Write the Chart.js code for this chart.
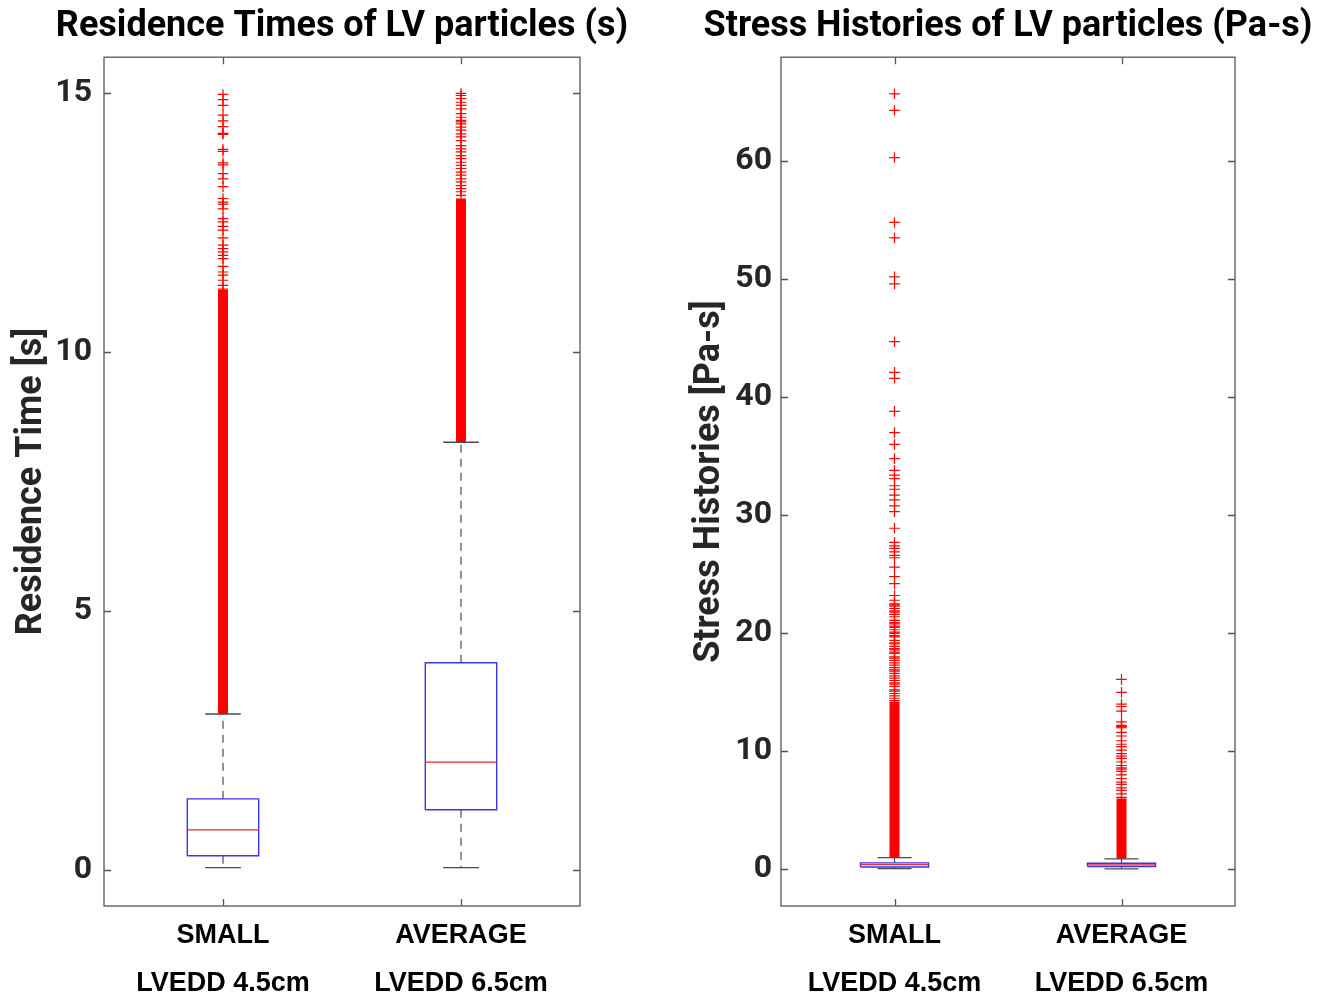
<!DOCTYPE html>
<html>
<head>
<meta charset="utf-8">
<title>LV particles – residence times and stress histories</title>
<script src="https://cdn.jsdelivr.net/npm/chart.js@4.4.0/dist/chart.umd.min.js"></script>
<style>
  html, body { margin: 0; padding: 0; background: #fff; overflow: hidden; }
  #wrap { position: relative; width: 1331px; height: 999px; overflow: hidden; }
  #rtChart { position: absolute; left: 0; top: 0; }
  #shChart { position: absolute; left: 660px; top: 0; }
</style>
</head>
<body>
<div id="wrap">
  <canvas id="rtChart" width="684" height="999"></canvas>
  <canvas id="shChart" width="696" height="999"></canvas>
</div>
<script>
// ---------- data ----------
const categories = ['SMALL', 'AVERAGE'];
const categorySubLabels = ['LVEDD 4.5cm', 'LVEDD 6.5cm'];
const categoryX = [1, 2];

// residence times (s)
const rtTicks = [0, 5, 10, 15];
const rtQ1 = [0.27, 1.16];
const rtMedian = [0.77, 2.08];
const rtQ3 = [1.37, 4.0];
const rtWhiskerLow = [0.04, 0.04];
const rtWhiskerHigh = [3.01, 8.26];
// ranges where outliers are packed so tightly that they form a solid column
const rtDenseOutliers = [[3.01, 11.2], [8.26, 12.97]];
const rtSmallOutliers = [14.98, 14.88, 14.77, 14.58, 14.47, 14.36, 14.23, 14.21, 13.92, 13.88,
  13.66, 13.62, 13.45, 13.35, 13.2, 12.97, 12.9, 12.86, 12.77, 12.58, 12.52, 12.43, 12.36,
  12.21, 12.07, 12.0, 11.94, 11.87, 11.81, 11.66, 11.55, 11.49, 11.39, 11.29, 11.22];
const rtAverageOutliers = [15.0, 14.96, 14.9, 14.83, 14.77, 14.7, 14.61, 14.54, 14.48, 14.45,
  14.41, 14.35, 14.29, 14.22, 14.16, 14.09, 13.99, 13.93, 13.87, 13.8, 13.74, 13.67, 13.61,
  13.55, 13.48, 13.42, 13.35, 13.29, 13.22, 13.16, 13.1, 13.03];

// stress histories (Pa-s)
const shTicks = [0, 10, 20, 30, 40, 50, 60];
const shQ1 = [0.2, 0.25];
const shMedian = [0.4, 0.38];
const shQ3 = [0.55, 0.52];
const shWhiskerLow = [0.06, 0.05];
const shWhiskerHigh = [0.99, 0.9];
const shDenseOutliers = [[0.99, 14.2], [0.9, 6.0]];
const shSmallOutliers = [65.7, 64.3, 60.3, 54.8, 53.5, 50.2, 49.6, 44.7, 42.1, 41.6, 38.8,
  37.0, 36.0, 34.8, 33.8, 33.4, 33.1, 32.5, 32.2, 31.7, 31.3, 30.8, 30.3, 28.9, 27.7, 27.4,
  27.2, 26.9, 26.6, 26.4, 25.6, 24.8, 24.2, 23.2, 22.8, 22.5, 22.4, 22.3, 22.1, 21.9, 21.8,
  21.6, 21.4, 21.1, 20.9, 20.8, 20.6, 20.5, 20.3, 20.1, 20.0, 19.8, 19.7, 19.4, 19.2, 19.1,
  18.9, 18.7, 18.6, 18.4, 18.3, 18.0, 17.9, 17.7, 17.5, 17.3, 17.1, 16.9, 16.8, 16.6, 16.4,
  16.2, 16.0, 15.8, 15.7, 15.5, 15.2, 15.1, 14.9, 14.7, 14.5, 14.3];
const shAverageOutliers = [16.1, 15.0, 14.0, 13.8, 13.4, 12.5, 12.2, 12.1, 12.0, 11.6, 11.3,
  10.9, 10.6, 10.4, 10.1, 9.8, 9.6, 9.4, 9.1, 8.8, 8.6, 8.5, 8.3, 8.0, 7.7, 7.4, 7.2, 6.9,
  6.7, 6.4, 6.1];

// ---------- styles ----------
const BOX_HALF = 0.15;
const CAP_HALF = 0.075;
const BOX_COLOR = '#3535f2';
const MEDIAN_COLOR = '#ee2a2a';
const OUTLIER_COLOR = '#ff0000';
const WHISKER_COLOR = '#4a4a4a';
const AXIS_COLOR = '#555555';
const TICK_LEN = 7;

// ---------- helpers ----------
function seg(x0, y0, x1, y1) {
  return [{ x: x0, y: y0 }, { x: x1, y: y1 }];
}

function lineSet(data, color, width, order, dash) {
  return {
    type: 'line',
    data,
    showLine: true,
    borderColor: color,
    borderWidth: width,
    borderDash: dash || [],
    pointRadius: 0,
    fill: false,
    tension: 0,
    order
  };
}

function buildBoxDatasets(q1, med, q3, lo, hi, dense, outliers) {
  const sets = [];
  categoryX.forEach((cx, i) => {
    sets.push(lineSet(seg(cx, dense[i][0], cx, dense[i][1]), OUTLIER_COLOR, 10, 6));
    sets.push({
      type: 'scatter',
      data: outliers[i].map(v => ({ x: cx, y: v })),
      pointStyle: 'cross',
      pointRadius: 5.3,
      borderColor: OUTLIER_COLOR,
      borderWidth: 1.2,
      order: 5
    });
    sets.push(lineSet(seg(cx, q3[i], cx, hi[i]), WHISKER_COLOR, 1.2, 4, [8, 6]));
    sets.push(lineSet(seg(cx, q1[i], cx, lo[i]), WHISKER_COLOR, 1.2, 4, [8, 6]));
    sets.push(lineSet(seg(cx - CAP_HALF, hi[i], cx + CAP_HALF, hi[i]), WHISKER_COLOR, 1.3, 3));
    sets.push(lineSet(seg(cx - CAP_HALF, lo[i], cx + CAP_HALF, lo[i]), WHISKER_COLOR, 1.3, 3));
    sets.push(lineSet([
      { x: cx - BOX_HALF, y: q1[i] }, { x: cx + BOX_HALF, y: q1[i] },
      { x: cx + BOX_HALF, y: q3[i] }, { x: cx - BOX_HALF, y: q3[i] },
      { x: cx - BOX_HALF, y: q1[i] }
    ], BOX_COLOR, 1.4, 2));
    sets.push(lineSet(seg(cx - BOX_HALF, med[i], cx + BOX_HALF, med[i]), MEDIAN_COLOR, 1.2, 1));
  });
  return sets;
}

// MATLAB-like frame with inward ticks on all four sides
const matlabAxes = {
  id: 'matlabAxes',
  afterDatasetsDraw(chart) {
    const { ctx, chartArea: a, scales: { x, y } } = chart;
    ctx.save();
    ctx.strokeStyle = AXIS_COLOR;
    ctx.lineWidth = 1.3;
    ctx.strokeRect(a.left, a.top, a.right - a.left, a.bottom - a.top);
    ctx.beginPath();
    y.ticks.forEach(t => {
      const py = Math.round(y.getPixelForValue(t.value)) + 0.5;
      ctx.moveTo(a.left, py); ctx.lineTo(a.left + TICK_LEN, py);
      ctx.moveTo(a.right, py); ctx.lineTo(a.right - TICK_LEN, py);
    });
    x.ticks.forEach(t => {
      const px = Math.round(x.getPixelForValue(t.value)) + 0.5;
      ctx.moveTo(px, a.bottom); ctx.lineTo(px, a.bottom - TICK_LEN);
      ctx.moveTo(px, a.top); ctx.lineTo(px, a.top + TICK_LEN);
    });
    ctx.stroke();
    ctx.restore();
  }
};

function makeChart(canvasId, cfg) {
  return new Chart(document.getElementById(canvasId), {
    type: 'scatter',
    data: { datasets: cfg.datasets },
    plugins: [matlabAxes],
    options: {
      responsive: false,
      animation: false,
      devicePixelRatio: 1,
      layout: { padding: 0 },
      plugins: {
        legend: { display: false },
        tooltip: { enabled: false },
        title: {
          display: true,
          text: cfg.title,
          color: '#000',
          font: { family: 'Roboto', weight: 'bold', size: 36, lineHeight: 1.2 },
          padding: { top: 5, bottom: 9 }
        }
      },
      scales: {
        x: {
          type: 'linear',
          min: 0.5,
          max: 2.5,
          grid: { display: false },
          border: { display: false },
          afterBuildTicks: s => { s.ticks = categoryX.map(v => ({ value: v })); },
          afterFit: s => { s.height = 93; },
          ticks: {
            autoSkip: false,
            maxRotation: 0,
            padding: -2,
            color: '#000',
            font: { family: 'Liberation Sans', weight: 'bold', size: 27, lineHeight: 1.76 },
            callback: v => {
              const i = categoryX.indexOf(v);
              return i < 0 ? '' : [categories[i], categorySubLabels[i]];
            }
          }
        },
        y: {
          type: 'linear',
          min: cfg.yMin,
          max: cfg.yMax,
          grid: { display: false },
          border: { display: false },
          afterBuildTicks: s => { s.ticks = cfg.yTicks.map(v => ({ value: v })); },
          afterFit: s => { s.width = cfg.yWidth; },
          title: {
            display: true,
            text: cfg.yTitle,
            color: '#262626',
            font: { family: 'Roboto', weight: 'bold', size: 36, lineHeight: 1.2 },
            padding: { top: cfg.yTitlePad, bottom: 0 }
          },
          ticks: {
            padding: cfg.tickPad,
            color: '#262626',
            font: { family: 'Roboto', weight: 'bold', size: 32 }
          }
        },
        // empty right-hand spacer so the title is centred over the plot box
        spacer: {
          type: 'linear',
          position: 'right',
          grid: { display: false },
          border: { display: false },
          ticks: { display: false },
          afterFit: s => { s.width = cfg.yWidth; }
        }
      }
    }
  });
}

makeChart('rtChart', {
  title: 'Residence Times of LV particles (s)',
  yTitle: 'Residence Time [s]',
  yMin: -0.7,
  yMax: 15.7,
  yTicks: rtTicks,
  yWidth: 104,
  yTitlePad: 10,
  tickPad: 4,
  datasets: buildBoxDatasets(rtQ1, rtMedian, rtQ3, rtWhiskerLow, rtWhiskerHigh,
    rtDenseOutliers, [rtSmallOutliers, rtAverageOutliers])
});

makeChart('shChart', {
  title: 'Stress Histories of LV particles (Pa-s)',
  yTitle: 'Stress Histories [Pa-s]',
  yMin: -3.1,
  yMax: 68.8,
  yTicks: shTicks,
  yWidth: 121,
  yTitlePad: 28,
  tickPad: 1,
  datasets: buildBoxDatasets(shQ1, shMedian, shQ3, shWhiskerLow, shWhiskerHigh,
    shDenseOutliers, [shSmallOutliers, shAverageOutliers])
});
</script>
</body>
</html>
